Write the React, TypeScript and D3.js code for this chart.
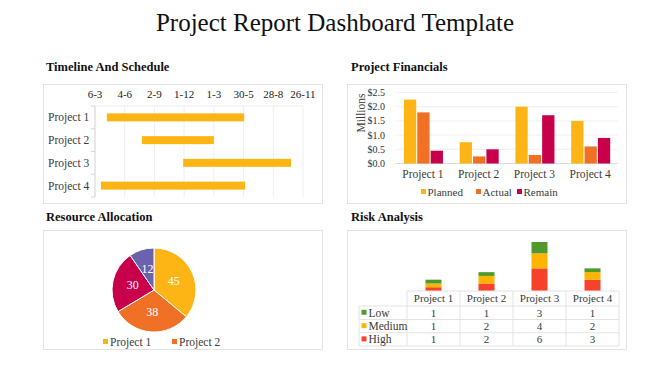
import React from "react";
import * as d3 from "d3";

const projects = ["Project 1", "Project 2", "Project 3", "Project 4"];

// Timeline
const timelineTicks = ["2017-03-06", "2017-06-04", "2017-09-02", "2017-12-01", "2018-03-01", "2018-05-30", "2018-08-28", "2018-11-26"];
const startDates = ["2017-04-11", "2017-07-26", "2017-11-28", "2017-03-24"];
const endDates = ["2018-06-01", "2018-03-01", "2018-10-21", "2018-06-04"];

// Financials (millions)
const finSeries = ["Planned", "Actual", "Remain"];
const planned = [2.25, 0.75, 2.0, 1.5];
const actual = [1.8, 0.25, 0.3, 0.6];
const remain = [0.45, 0.5, 1.7, 0.9];
const finTicks = [0, 0.5, 1.0, 1.5, 2.0, 2.5];

// Resource allocation
const resourceValues = [45, 38, 30, 12];

// Risk
const riskLevels = ["Low", "Medium", "High"];
const riskLow = [1, 1, 3, 1];
const riskMedium = [1, 2, 4, 2];
const riskHigh = [1, 2, 6, 3];

const C_YELLOW = "#FDB515";
const C_ORANGE = "#F07125";
const C_CRIMSON = "#C8004B";
const C_PURPLE = "#6B62AD";
const C_LOW = "#4F9A2A";
const C_MED = "#FFB400";
const C_HIGH = "#F5432B";

const FONT = "'Liberation Serif', 'Times New Roman', serif";
const BORDER = "#e3e3e3";
const TEXT = "#3a3a3a";

function Timeline() {
  const parse = d3.utcParse("%Y-%m-%d");
  const ticks = timelineTicks.map((t) => parse(t) as Date);
  const x = d3.scaleUtc().domain([ticks[0], ticks[ticks.length - 1]]).range([95, 303]);
  const y = d3.scaleBand().domain(projects).range([106, 197]);
  const fmt = d3.utcFormat("%-d-%-m");
  const bh = 8;
  return (
    <g>
      {ticks.map((t, i) => (
        <g key={i}>
          <line x1={x(t)} x2={x(t)} y1={106} y2={197} stroke="#efefef" />
          <text x={x(t)} y={98} textAnchor="middle" fontSize={11} fill="#222">{fmt(t)}</text>
        </g>
      ))}
      <line x1={95} x2={303} y1={106} y2={106} stroke="#efefef" />
      <line x1={95} x2={95} y1={106} y2={197} stroke="#d9d9d9" />
      {[...projects.map((p) => y(p) as number), 197].map((v, i) => (
        <line key={i} x1={91} x2={95} y1={v} y2={v} stroke="#d9d9d9" />
      ))}
      {projects.map((p, i) => {
        const cy = (y(p) as number) + y.bandwidth() / 2;
        const s = parse(startDates[i]) as Date;
        const e = parse(endDates[i]) as Date;
        return (
          <g key={p}>
            <text x={48} y={cy + 4} fontSize={11.5} fill={TEXT}>{p}</text>
            <rect x={x(s)} y={cy - bh / 2} width={x(e) - x(s)} height={bh} fill={C_YELLOW} />
          </g>
        );
      })}
    </g>
  );
}

function Financials() {
  const y = d3.scaleLinear().domain([0, 2.5]).range([163.5, 92.5]);
  const x0 = d3.scaleBand().domain(projects).range([395, 618]);
  const bw = x0.bandwidth();
  const x1 = d3.scaleBand().domain(finSeries).range([bw * 0.16, bw * 0.86]).paddingInner(0.08);
  const data = [planned, actual, remain];
  const colors = [C_YELLOW, C_ORANGE, C_CRIMSON];
  const legendX = [421, 476, 517];
  return (
    <g>
      {finTicks.map((t) => (
        <g key={t}>
          <line x1={395} x2={618} y1={y(t)} y2={y(t)} stroke={t === 0 ? "#d9d9d9" : "#f0f0f0"} />
          <text x={385} y={y(t) + 3.5} textAnchor="end" fontSize={10} fill="#333">{"$" + t.toFixed(1)}</text>
        </g>
      ))}
      <text transform={`translate(365,113) rotate(-90)`} textAnchor="middle" fontSize={11.5} fill={TEXT}>Millions</text>
      {projects.map((p, i) => (
        <g key={p} transform={`translate(${x0(p)},0)`}>
          {finSeries.map((s, j) => (
            <rect key={s} x={x1(s)} y={y(data[j][i])} width={x1.bandwidth()} height={y(0) - y(data[j][i])} fill={colors[j]} />
          ))}
          <text x={bw / 2} y={178} textAnchor="middle" fontSize={11.5} fill={TEXT}>{p}</text>
        </g>
      ))}
      {finSeries.map((s, j) => (
        <g key={s}>
          <rect x={legendX[j]} y={189} width={5} height={5} fill={colors[j]} />
          <text x={legendX[j] + 6.5} y={195.5} fontSize={11} fill={TEXT}>{s}</text>
        </g>
      ))}
    </g>
  );
}

function Resource() {
  const cx = 154, cy = 290, r = 42;
  const colors = [C_YELLOW, C_ORANGE, C_CRIMSON, C_PURPLE];
  const pie = d3.pie<number>().sort(null).value((d) => d);
  const arcs = pie(resourceValues);
  const arc = d3.arc<d3.PieArcDatum<number>>().innerRadius(0).outerRadius(r);
  const labelArc = d3.arc<d3.PieArcDatum<number>>().innerRadius(r * 0.52).outerRadius(r * 0.52);
  return (
    <g>
      <g transform={`translate(${cx},${cy})`}>
        {arcs.map((a, i) => (
          <path key={i} d={arc(a) as string} fill={colors[i]} stroke="#fff" strokeWidth={1} />
        ))}
        {arcs.map((a, i) => {
          const [lx, ly] = labelArc.centroid(a);
          return (
            <text key={i} x={lx} y={ly + 4} textAnchor="middle" fontSize={12} fill="#fff">{resourceValues[i]}</text>
          );
        })}
      </g>
      {[0, 1].map((i) => (
        <g key={i}>
          <rect x={[103, 172][i]} y={339} width={5} height={5} fill={colors[i]} />
          <text x={[103, 172][i] + 7} y={345.5} fontSize={11.5} fill={TEXT}>{projects[i]}</text>
        </g>
      ))}
    </g>
  );
}

function Risk() {
  const x = d3.scaleBand().domain(projects).range([407, 619]);
  const y = d3.scaleLinear().domain([0, 13]).range([291, 242]);
  const rows = projects.map((p, i) => ({ project: p, High: riskHigh[i], Medium: riskMedium[i], Low: riskLow[i] }));
  const stack = d3.stack<any>().keys(["High", "Medium", "Low"]);
  const series = stack(rows);
  const colorOf: Record<string, string> = { Low: C_LOW, Medium: C_MED, High: C_HIGH };
  const valuesOf: Record<string, number[]> = { Low: riskLow, Medium: riskMedium, High: riskHigh };
  const barW = 16;
  const rowY = [291, 306, 319.5, 332.75, 346];
  const tableLeft = 359;
  return (
    <g>
      {series.map((s) => (
        <g key={s.key}>
          {s.map((d, i) => (
            <rect key={i} x={(x(projects[i]) as number) + x.bandwidth() / 2 - barW / 2} y={y(d[1])} width={barW} height={y(d[0]) - y(d[1])} fill={colorOf[s.key]} />
          ))}
        </g>
      ))}
      <line x1={407} x2={619} y1={rowY[0]} y2={rowY[0]} stroke={BORDER} />
      {rowY.slice(1).map((ry, i) => (
        <line key={i} x1={tableLeft} x2={619} y1={ry} y2={ry} stroke={BORDER} />
      ))}
      <line x1={tableLeft} x2={tableLeft} y1={rowY[1]} y2={rowY[4]} stroke={BORDER} />
      {projects.map((p) => (
        <line key={p} x1={x(p)} x2={x(p)} y1={rowY[0]} y2={rowY[4]} stroke={BORDER} />
      ))}
      <line x1={619} x2={619} y1={rowY[0]} y2={rowY[4]} stroke={BORDER} />
      {projects.map((p) => (
        <text key={p} x={(x(p) as number) + x.bandwidth() / 2} y={rowY[0] + 11} textAnchor="middle" fontSize={11} fill={TEXT}>{p}</text>
      ))}
      {riskLevels.map((lvl, r) => {
        const ty = (rowY[r + 1] + rowY[r + 2]) / 2;
        return (
          <g key={lvl}>
            <rect x={361.5} y={ty - 3} width={5} height={5} fill={colorOf[lvl]} />
            <text x={368.5} y={ty + 4} fontSize={11.5} fill={TEXT}>{lvl}</text>
            {projects.map((p, i) => (
              <text key={p} x={(x(p) as number) + x.bandwidth() / 2} y={ty + 4} textAnchor="middle" fontSize={11} fill={TEXT}>{valuesOf[lvl][i]}</text>
            ))}
          </g>
        );
      })}
    </g>
  );
}

export default function App() {
  return (
    <svg width={670} height={376} style={{ position: "absolute", left: 0, top: 0, background: "#fff" }} fontFamily={FONT}>
      <rect width={670} height={376} fill="#fff" />
      <text x={335} y={31} textAnchor="middle" fontSize={25} fill="#111">Project Report Dashboard Template</text>

      <text x={46} y={71} fontSize={12.5} fontWeight="bold" fill="#111">Timeline And Schedule</text>
      <text x={351} y={71} fontSize={12.5} fontWeight="bold" fill="#111">Project Financials</text>
      <text x={46} y={221} fontSize={12.5} fontWeight="bold" fill="#111">Resource Allocation</text>
      <text x={351} y={221} fontSize={12.5} fontWeight="bold" fill="#111">Risk Analysis</text>

      <rect x={43.5} y={84.5} width={279} height={119} fill="#fff" stroke={BORDER} />
      <rect x={347.5} y={84.5} width={279} height={119} fill="#fff" stroke={BORDER} />
      <rect x={43.5} y={230.5} width={279} height={119} fill="#fff" stroke={BORDER} />
      <rect x={347.5} y={230.5} width={279} height={119} fill="#fff" stroke={BORDER} />

      <Timeline />
      <Financials />
      <Resource />
      <Risk />
    </svg>
  );
}
